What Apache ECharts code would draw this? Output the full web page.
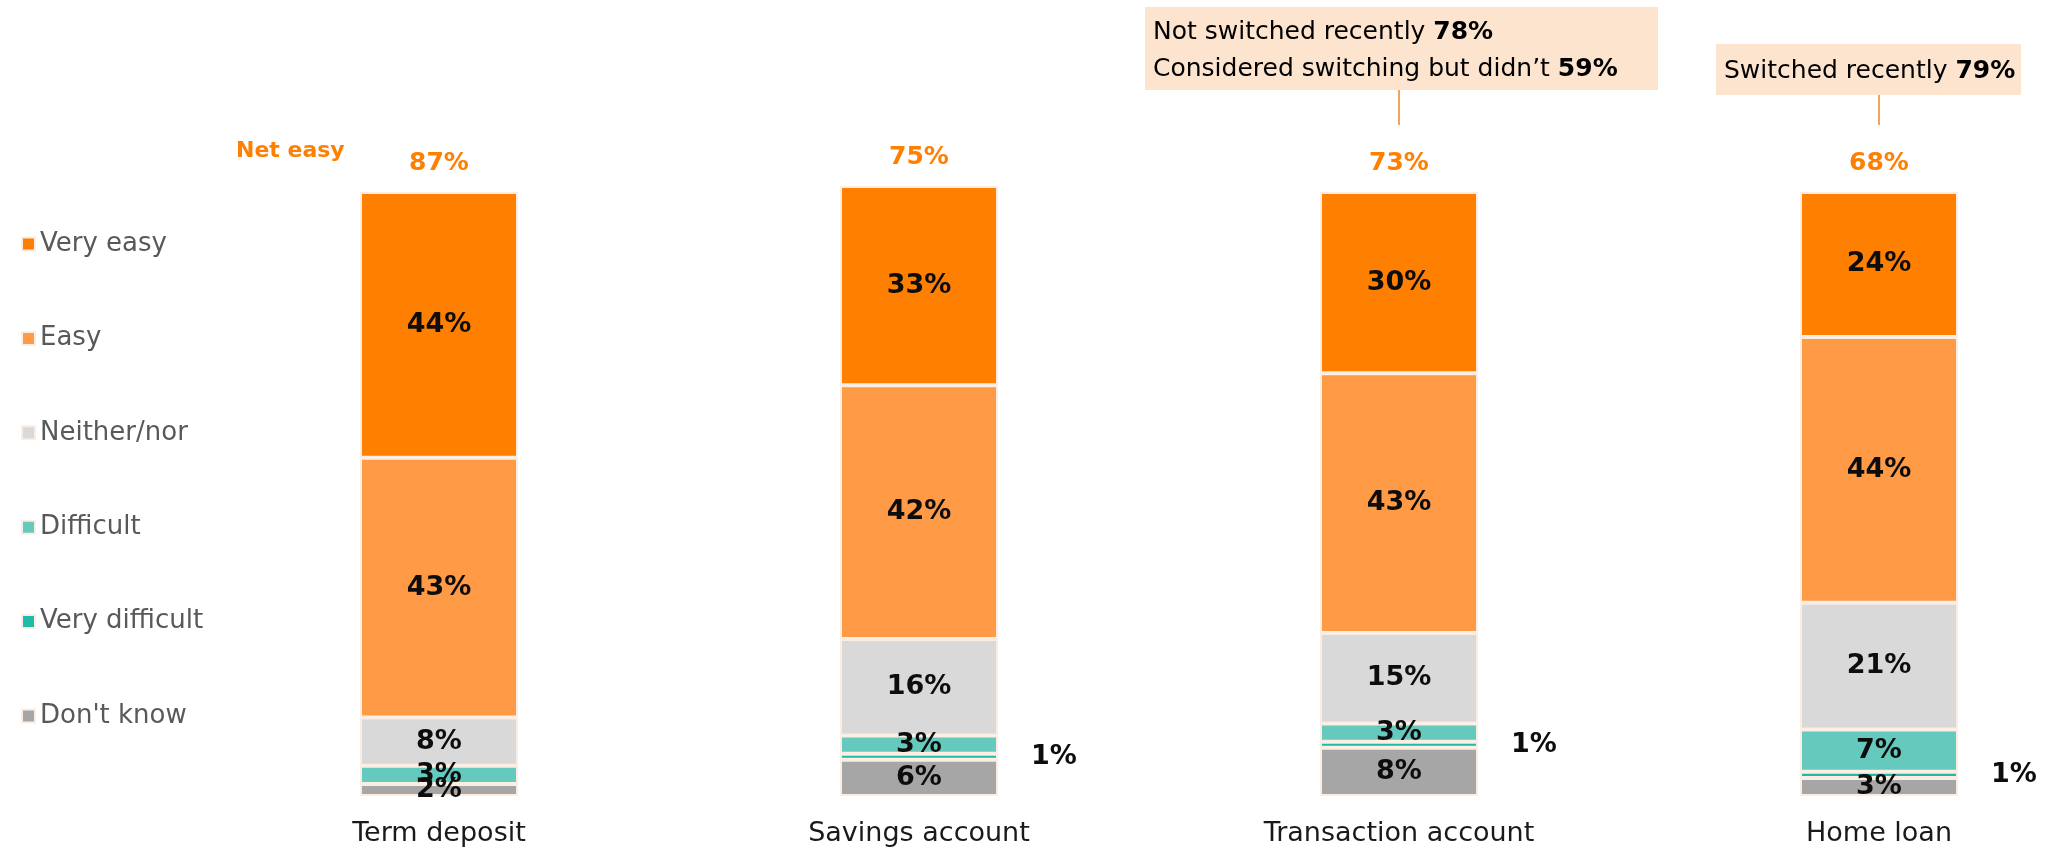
<!DOCTYPE html>
<html>
<head>
<meta charset="utf-8">
<script src="https://cdn.jsdelivr.net/npm/echarts@6/dist/echarts.min.js"></script>
<style>html,body{margin:0;padding:0;background:#fff;}#c{width:2052px;height:848px;}</style>
</head>
<body>
<div id="c"></div>
<script>
const categories = ['Term deposit', 'Savings account', 'Transaction account', 'Home loan'];
const veryEasy = [44, 33, 30, 24];
const easy = [43, 42, 43, 44];
const neither = [8, 16, 15, 21];
const difficult = [3, 3, 3, 7];
const veryDifficult = [0, 1, 1, 1];
const dontKnow = [2, 6, 8, 3];
const netEasy = [87, 75, 73, 68];
const legendNames = ['Very easy', 'Easy', 'Neither/nor', 'Difficult', 'Very difficult', "Don't know"];
const annotations = [
  { category: 'Transaction account', lines: [['Not switched recently ', '78%'], ["Considered switching but didn\u2019t ", '59%']] },
  { category: 'Home loan', lines: [['Switched recently ', '79%']] }
];

const FONT = 'DejaVu Sans';
const ORANGE = '#FF7F00';
const chart = echarts.init(document.getElementById('c'), null, { renderer: 'canvas' });

const inLabel = {
  show: true, position: 'inside', color: '#0d0d0d', fontFamily: FONT, fontWeight: 'bold', fontSize: 27,
  formatter: p => p.value > 0 ? p.value + '%' : ''
};
function seg(name, data, color, label) {
  return {
    name, type: 'bar', stack: 'total', data, barWidth: 158, clip: false,
    itemStyle: { color, borderColor: '#FCEDE2', borderWidth: 2 },
    label: label || inLabel,
    emphasis: { disabled: true }
  };
}

const option = {
  animation: false,
  backgroundColor: '#ffffff',
  title: {
    text: 'Net easy', left: 231, top: 135,
    textStyle: { color: ORANGE, fontFamily: FONT, fontWeight: 'bold', fontSize: 22 }
  },
  legend: {
    data: legendNames, orient: 'vertical', left: 16, top: 226,
    icon: 'rect', itemWidth: 13, itemHeight: 13, itemGap: 68.4,
    textStyle: { color: '#595959', fontFamily: FONT, fontSize: 26, lineHeight: 24, padding: [0, 0, 0, 0] },
    selectedMode: false
  },
  grid: { left: 439, right: 173, top: 71.2, bottom: 52, containLabel: false },
  xAxis: {
    type: 'category', data: categories, boundaryGap: false,
    axisLine: { show: false }, axisTick: { show: false }, splitLine: { show: false },
    axisLabel: { color: '#1a1a1a', fontFamily: FONT, fontSize: 27, margin: 24 }
  },
  yAxis: { type: 'value', min: 0, max: 120, show: false, splitLine: { show: false } },
  series: [
    seg("Don't know", dontKnow, '#A6A6A6'),
    seg('Very difficult', veryDifficult, '#20BBA8', {
      show: true, position: 'right', distance: 33, color: '#0d0d0d', fontFamily: FONT, fontWeight: 'bold', fontSize: 27,
      formatter: p => p.value > 0 ? p.value + '%' : ''
    }),
    seg('Difficult', difficult, '#66C9BE'),
    seg('Neither/nor', neither, '#D9D9D9'),
    seg('Easy', easy, '#FF9A47'),
    seg('Very easy', veryEasy, ORANGE),
    {
      name: 'Net easy', type: 'bar', stack: 'total', barWidth: 158, clip: false,
      data: netEasy.map(() => 0),
      itemStyle: { color: 'rgba(0,0,0,0)', borderWidth: 0 },
      label: {
        show: true, position: 'top', distance: 16, color: ORANGE, fontFamily: FONT, fontWeight: 'bold', fontSize: 25,
        formatter: p => netEasy[p.dataIndex] + '%'
      },
      emphasis: { disabled: true }
    }
  ]
};
chart.setOption(option);

// annotation boxes positioned relative to the category axis
const boxLayout = [
  { leftOff: -254, width: 513, top: 7, height: 83 },
  { leftOff: -163, width: 305, top: 44, height: 51 }
];
const graphics = [];
annotations.forEach((a, i) => {
  const cx = chart.convertToPixel({ xAxisIndex: 0 }, a.category);
  const L = boxLayout[i];
  const fontSize = 25, lh = 37;
  const rich = { n: { fontFamily: FONT, fontSize, color: '#333333', lineHeight: lh }, b: { fontFamily: FONT, fontSize, fontWeight: 'bold', color: '#262626', lineHeight: lh } };
  const text = a.lines.map(l => '{n|' + l[0] + '}{b|' + l[1] + '}').join('\n');
  const left = cx + L.leftOff;
  const textH = a.lines.length * lh;
  graphics.push({ type: 'rect', shape: { x: left, y: L.top, width: L.width, height: L.height }, style: { fill: '#FDE4CF' }, z: 10 });
  graphics.push({ type: 'text', x: left + 8, y: L.top + (L.height - textH) / 2 + 2, style: { text, rich }, z: 11 });
  graphics.push({ type: 'line', shape: { x1: cx, y1: L.top + L.height, x2: cx, y2: 125 }, style: { stroke: '#F7A35C', lineWidth: 2 }, z: 10 });
});
chart.setOption({ graphic: graphics });
</script>
</body>
</html>
